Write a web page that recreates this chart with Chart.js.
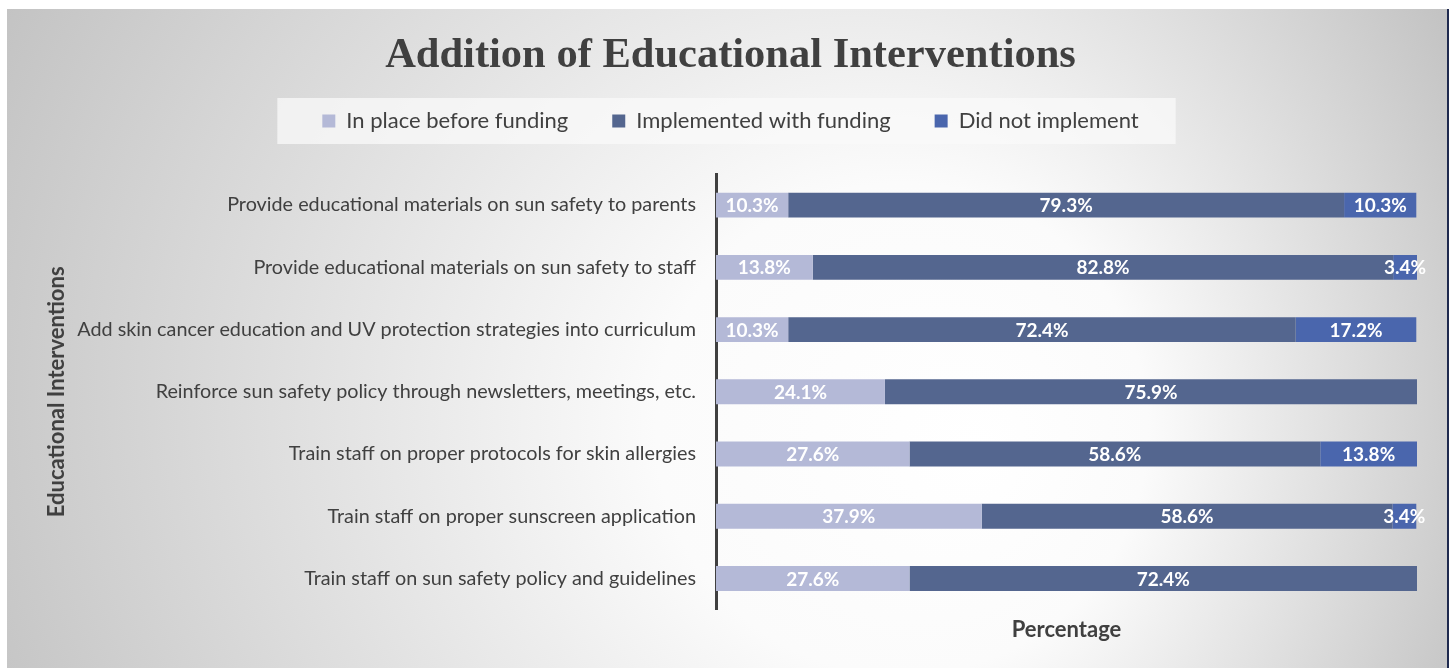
<!DOCTYPE html>
<html>
<head>
<meta charset="utf-8">
<script src="https://cdn.jsdelivr.net/npm/chart.js@4.4.1/dist/chart.umd.min.js"></script>
<style>
  html, body { margin: 0; padding: 0; background: #fff; }
  #wrap { width: 1450px; height: 668px; position: relative; }
</style>
</head>
<body>
<div id="wrap"><canvas id="chartGraph"></canvas></div>
<script>
const ctx = document.getElementById('chartGraph');

// data
const interventions = [
  'Provide educational materials on sun safety to parents',
  'Provide educational materials on sun safety to staff',
  'Add skin cancer education and UV protection strategies into curriculum',
  'Reinforce sun safety policy through newsletters, meetings, etc.',
  'Train staff on proper protocols for skin allergies',
  'Train staff on proper sunscreen application',
  'Train staff on sun safety policy and guidelines'
];
const inPlaceBefore = [10.3, 13.8, 10.3, 24.1, 27.6, 37.9, 27.6];
const implementedWithFunding = [79.3, 82.8, 72.4, 75.9, 58.6, 58.6, 72.4];
const didNotImplement = [10.3, 3.4, 17.2, 0, 13.8, 3.4, 0];

const textColor = '#404040';
const bodyFont = 'Lato, "Open Sans", sans-serif';

const backgroundPlugin = {
  id: 'background',
  beforeDraw(chart) {
    const c = chart.ctx;
    const w = chart.width, h = chart.height;
    c.save();
    c.fillStyle = '#ffffff';
    c.fillRect(0, 0, w, h);
    let g = c.createRadialGradient(980, 450, 0, 720, 380, 820);
    g.addColorStop(0, '#ffffff');
    g.addColorStop(0.3, '#fbfbfb');
    g.addColorStop(1, '#c2c2c2');
    c.fillStyle = g;
    c.fillRect(7, 9, w - 10, h - 9);
    c.fillStyle = '#1f2a4f';
    c.fillRect(w - 3, 9, 2, h - 9);

    // legend backdrop
    let boxes = chart.legend.legendHitBoxes;
    if (boxes && boxes.length) {
      let first = boxes[0];
      let last = boxes[boxes.length - 1];
      let midY = first.top + first.height / 2;
      c.fillStyle = 'rgba(250,250,250,0.75)';
      c.fillRect(first.left - 45, midY - 23, last.left + last.width - first.left + 82, 46);
    }
    c.restore();
  }
};

const valueLabels = {
  id: 'valueLabels',
  afterDatasetsDraw(chart) {
    const c = chart.ctx;
    c.save();
    c.font = 'bold 19px ' + bodyFont;
    c.fillStyle = '#ffffff';
    c.textAlign = 'center';
    c.textBaseline = 'middle';
    chart.data.datasets.forEach((ds, i) => {
      let meta = chart.getDatasetMeta(i);
      meta.data.forEach((bar, j) => {
        let v = ds.data[j];
        if (!v) return;
        c.fillText(v.toFixed(1) + '%', (bar.x + bar.base) / 2, bar.y + 1);
      });
    });
    c.restore();
  }
};

let myChart = new Chart(ctx, {
  type: 'bar',
  data: {
    labels: interventions,
    datasets: [
      { label: 'In place before funding', data: inPlaceBefore, backgroundColor: '#b4b9d7' },
      { label: 'Implemented with funding', data: implementedWithFunding, backgroundColor: '#54668f' },
      { label: 'Did not implement', data: didNotImplement, backgroundColor: '#4a66ad' }
    ]
  },
  options: {
    indexAxis: 'y',
    responsive: true,
    maintainAspectRatio: false,
    animation: false,
    layout: { padding: { left: 44, right: 33, top: 9, bottom: 25 } },
    datasets: {
      bar: {
        barPercentage: 0.8,
        categoryPercentage: 0.5,
        borderWidth: 0
      }
    },
    scales: {
      x: {
        stacked: true,
        min: 0,
        max: 100,
        grid: { display: false, drawTicks: false },
        border: { display: false },
        ticks: { display: false },
        title: {
          display: true,
          text: 'Percentage',
          color: textColor,
          font: { family: bodyFont, size: 22, weight: 'bold' },
          padding: { top: 7, bottom: 0 }
        }
      },
      // empty axis used only as a gap between the legend and the bars
      xTop: {
        axis: 'x',
        type: 'linear',
        position: 'top',
        min: 0,
        max: 100,
        grid: { display: false, drawTicks: false },
        border: { display: false },
        ticks: { display: false },
        afterFit(scale) {
          scale.height = 32;
        }
      },
      y: {
        stacked: true,
        grid: { display: false },
        border: { display: true, color: '#404040', width: 3 },
        ticks: {
          color: textColor,
          padding: 12,
          font: { family: bodyFont, size: 19.8 }
        },
        title: {
          display: true,
          text: 'Educational Interventions',
          color: textColor,
          font: { family: bodyFont, size: 22, weight: 'bold' },
          padding: { top: 0, bottom: 0 }
        },
        afterFit(scale) {
          scale.width = 716 - 44;
        }
      }
    },
    plugins: {
      title: {
        display: true,
        text: 'Addition of Educational Interventions',
        color: textColor,
        font: { family: '"Liberation Serif", "Times New Roman", serif', size: 42.5, weight: 'bold' },
        padding: { top: 22, bottom: -16 }
      },
      legend: {
        position: 'top',
        labels: {
          color: textColor,
          boxWidth: 13,
          boxHeight: 13,
          padding: 44,
          font: { family: bodyFont, size: 22 }
        }
      },
      tooltip: { enabled: false }
    }
  },
  plugins: [backgroundPlugin, valueLabels]
});
</script>
</body>
</html>
